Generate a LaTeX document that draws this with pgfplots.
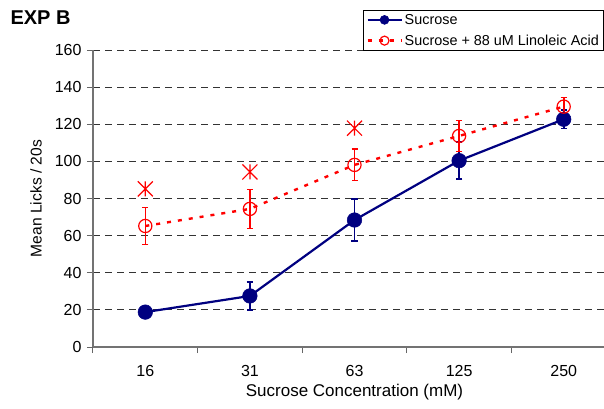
\documentclass[border=0pt]{standalone}
\usepackage{pgfplots}
\pgfplotsset{compat=1.18}
\usepackage{fontspec}
\setmainfont{Liberation Sans}

\definecolor{sucnavy}{RGB}{0,0,128}
\definecolor{linred}{RGB}{255,0,0}

% Excel-style star: an X with a vertical bar
\pgfdeclareplotmark{xstar}{%
  \pgfpathmoveto{\pgfqpoint{-\pgfplotmarksize}{-\pgfplotmarksize}}%
  \pgfpathlineto{\pgfqpoint{\pgfplotmarksize}{\pgfplotmarksize}}%
  \pgfpathmoveto{\pgfqpoint{-\pgfplotmarksize}{\pgfplotmarksize}}%
  \pgfpathlineto{\pgfqpoint{\pgfplotmarksize}{-\pgfplotmarksize}}%
  \pgfpathmoveto{\pgfqpoint{0pt}{-\pgfplotmarksize}}%
  \pgfpathlineto{\pgfqpoint{0pt}{\pgfplotmarksize}}%
  \pgfusepathqstroke}

\begin{document}
\begin{tikzpicture}
\useasboundingbox (-93pt,-61pt) rectangle (511pt,347pt);
\begin{axis}[
    at={(0,0)}, anchor=south west,
    scale only axis,
    width=523pt, height=297pt,
    xmin=-0.5, xmax=4.5,
    ymin=0, ymax=160,
    axis x line*=bottom, axis y line*=left,
    axis line style={draw=black!55, line width=1.1pt},
    xtick={0,1,2,3,4},
    xticklabels={16,31,63,125,250},
    major x tick style={draw=none},
    minor xtick={-0.5,0.5,1.5,2.5,3.5,4.5},
    minor tick length=6pt,
    minor x tick style={draw=black!60, line width=1pt},
    ytick={0,20,...,160},
    major tick length=6pt,
    tick align=outside,
    major y tick style={draw=black!60, line width=1pt},
    ymajorgrids,
    grid style={draw=black!80, line width=0.9pt, dash pattern=on 7pt off 5pt},
    /pgf/number format/assume math mode=true,
    tick label style={font=\fontsize{16}{19}\selectfont},
    xticklabel style={yshift=-9pt},
    yticklabel style={xshift=-2pt},
    xlabel={Sucrose Concentration (mM)},
    ylabel={Mean Licks / 20s},
    every axis x label/.style={at={(axis description cs:0.5,0)}, yshift=-45pt, anchor=center,
        font=\fontsize{17}{20}\selectfont},
    every axis y label/.style={at={(axis description cs:0,0.5)}, xshift=-57pt, rotate=90, anchor=center,
        font=\fontsize{15.6}{18}\selectfont},
    clip=false,
    legend style={
        at={(axis description cs:0.9775,1)}, anchor=south east,
        yshift=-1pt,
        draw=black, line width=0.8pt,
        font=\fontsize{14.4}{17}\selectfont,
        inner xsep=3pt, inner ysep=2pt,
        row sep=5pt,
        legend cell align=left,
        /tikz/every even column/.style={column sep=2pt},
    },
    legend image code/.code={%
        \draw[#1, mark=none] (0pt,0pt) -- (34pt,0pt);
        \path[#1, mark size=4.5pt] plot coordinates {(17pt,0pt)};
    },
]

% Sucrose
\addplot[
    color=sucnavy, line width=2.2pt,
    mark=*, mark size=7.3pt, mark options={solid, fill=sucnavy, line width=0.5pt},
    error bars/.cd, y dir=both, y explicit,
    error mark options={rotate=90, mark size=3.2pt, line width=1.6pt, sucnavy},
    error bar style={line width=1.6pt, sucnavy},
] coordinates {
    (0,18.8) +- (0,2)
    (1,27.5) +- (0,7.5)
    (2,68.4) +- (0,11.4)
    (3,100.4) +- (0,10)
    (4,122.7) +- (0,5)
};
\addlegendentry{Sucrose}

% Sucrose + 88 uM Linoleic Acid
\addplot[
    color=linred, line width=2.4pt, dash pattern=on 4pt off 7pt,
    mark=o, mark size=6.6pt, mark options={solid, line width=1.2pt, fill=none},
    error bars/.cd, y dir=both, y explicit,
    error mark options={rotate=90, mark size=3pt, line width=1.6pt, linred, solid},
    error bar style={line width=1.6pt, linred, solid},
] coordinates {
    (0,65.2) +- (0,10)
    (1,74.4) +- (0,10.5)
    (2,98.1) +- (0,8.5)
    (3,113.7) +- (0,8.3)
    (4,129.5) +- (0,5)
};
\addlegendentry{Sucrose + 88 uM Linoleic Acid}

% significance stars
\addplot[
    only marks, color=linred,
    mark=xstar, mark size=7.5pt, mark options={line width=1.2pt},
    forget plot,
] coordinates {
    (0,85.2) (1,94.3) (2,117.9)
};

\end{axis}
\node[anchor=west, font=\bfseries\fontsize{20}{24}\selectfont] at (-86pt,329pt) {EXP B};
\end{tikzpicture}
\end{document}
